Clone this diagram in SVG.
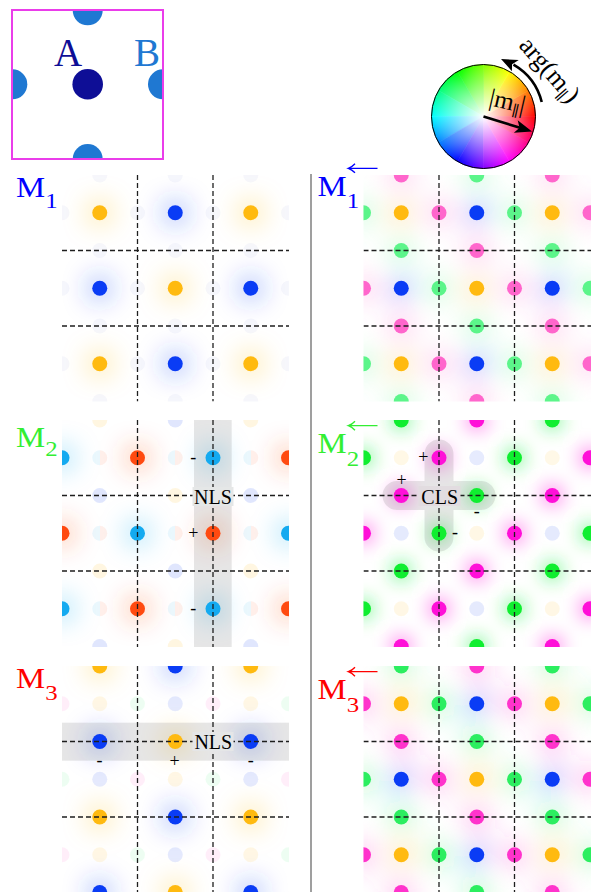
<svg xmlns="http://www.w3.org/2000/svg" xmlns:xlink="http://www.w3.org/1999/xlink" width="592" height="892" viewBox="0 0 592 892">
<style>
.t{font-family:"Liberation Serif","Times New Roman","DejaVu Serif",serif}
.dash{fill:none;stroke:#1e1e1e;stroke-width:1.3;stroke-dasharray:5 3}
.O{fill:#ffba10}.B{fill:#0a3cf5}.P{fill:#ff66cc}.G{fill:#5cf58a}.C{fill:#14aaf0}.R{fill:#ff4a10}.M{fill:#ff10d8}.L{fill:#10ee30}.P3{fill:#ff33cc}.G3{fill:#2cee60}
.sg{font-size:18px}
</style>
<defs>
<filter id="glow" filterUnits="userSpaceOnUse" x="0" y="0" width="592" height="892"><feGaussianBlur stdDeviation="14"/></filter>
<filter id="glow2" filterUnits="userSpaceOnUse" x="0" y="0" width="592" height="892"><feGaussianBlur stdDeviation="10"/></filter>
<clipPath id="cIn"><rect x="12" y="10" width="151" height="149"/></clipPath>
<clipPath id="cL1"><rect x="62" y="175" width="227" height="226.5"/></clipPath>
<clipPath id="cR1"><rect x="363.5" y="175" width="227.5" height="226.5"/></clipPath>
<clipPath id="cL2"><rect x="62" y="420" width="227" height="227"/></clipPath>
<clipPath id="cR2"><rect x="363.5" y="420" width="227.5" height="227"/></clipPath>
<clipPath id="cL3"><rect x="62" y="666" width="227" height="226"/></clipPath>
<clipPath id="cR3"><rect x="363.5" y="666" width="227.5" height="226"/></clipPath>
<linearGradient id="split" x1="0" y1="0" x2="1" y2="0"><stop offset="0.5" stop-color="#14aaf0"/><stop offset="0.5" stop-color="#ff4a10"/></linearGradient>
<radialGradient id="wht" cx="483.5" cy="116.5" r="52" gradientUnits="userSpaceOnUse"><stop offset="0" stop-color="#fff" stop-opacity="1"/><stop offset="1" stop-color="#fff" stop-opacity="0"/></radialGradient>
<linearGradient id="w0" gradientUnits="userSpaceOnUse" x1="535.5" y1="116.5" x2="528.53" y2="90.5"><stop offset="0" stop-color="#ff0000"/><stop offset="1" stop-color="#ff8000"/></linearGradient>
<linearGradient id="w1" gradientUnits="userSpaceOnUse" x1="528.53" y1="90.5" x2="509.5" y2="71.47"><stop offset="0" stop-color="#ff8000"/><stop offset="1" stop-color="#ffff00"/></linearGradient>
<linearGradient id="w2" gradientUnits="userSpaceOnUse" x1="509.5" y1="71.47" x2="483.5" y2="64.5"><stop offset="0" stop-color="#ffff00"/><stop offset="1" stop-color="#80ff00"/></linearGradient>
<linearGradient id="w3" gradientUnits="userSpaceOnUse" x1="483.5" y1="64.5" x2="457.5" y2="71.47"><stop offset="0" stop-color="#80ff00"/><stop offset="1" stop-color="#00ff00"/></linearGradient>
<linearGradient id="w4" gradientUnits="userSpaceOnUse" x1="457.5" y1="71.47" x2="438.47" y2="90.5"><stop offset="0" stop-color="#00ff00"/><stop offset="1" stop-color="#00ff80"/></linearGradient>
<linearGradient id="w5" gradientUnits="userSpaceOnUse" x1="438.47" y1="90.5" x2="431.5" y2="116.5"><stop offset="0" stop-color="#00ff80"/><stop offset="1" stop-color="#00ffff"/></linearGradient>
<linearGradient id="w6" gradientUnits="userSpaceOnUse" x1="431.5" y1="116.5" x2="438.47" y2="142.5"><stop offset="0" stop-color="#00ffff"/><stop offset="1" stop-color="#0080ff"/></linearGradient>
<linearGradient id="w7" gradientUnits="userSpaceOnUse" x1="438.47" y1="142.5" x2="457.5" y2="161.53"><stop offset="0" stop-color="#0080ff"/><stop offset="1" stop-color="#0000ff"/></linearGradient>
<linearGradient id="w8" gradientUnits="userSpaceOnUse" x1="457.5" y1="161.53" x2="483.5" y2="168.5"><stop offset="0" stop-color="#0000ff"/><stop offset="1" stop-color="#8000ff"/></linearGradient>
<linearGradient id="w9" gradientUnits="userSpaceOnUse" x1="483.5" y1="168.5" x2="509.5" y2="161.53"><stop offset="0" stop-color="#8000ff"/><stop offset="1" stop-color="#ff00ff"/></linearGradient>
<linearGradient id="w10" gradientUnits="userSpaceOnUse" x1="509.5" y1="161.53" x2="528.53" y2="142.5"><stop offset="0" stop-color="#ff00ff"/><stop offset="1" stop-color="#ff0080"/></linearGradient>
<linearGradient id="w11" gradientUnits="userSpaceOnUse" x1="528.53" y1="142.5" x2="535.5" y2="116.5"><stop offset="0" stop-color="#ff0080"/><stop offset="1" stop-color="#ff0000"/></linearGradient>

<g id="d1l">
<circle class="O" cx="99.75" cy="212.75" r="7.5"/><circle class="B" cx="175.25" cy="212.75" r="7.5"/><circle class="O" cx="250.75" cy="212.75" r="7.5"/>
<circle class="B" cx="99.75" cy="288.25" r="7.5"/><circle class="O" cx="175.25" cy="288.25" r="7.5"/><circle class="B" cx="250.75" cy="288.25" r="7.5"/>
<circle class="O" cx="99.75" cy="363.75" r="7.5"/><circle class="B" cx="175.25" cy="363.75" r="7.5"/><circle class="O" cx="250.75" cy="363.75" r="7.5"/>
</g>
<g id="d1r">
<circle class="P" cx="401.25" cy="175" r="7.5"/><circle class="G" cx="476.75" cy="175" r="7.5"/><circle class="P" cx="552.25" cy="175" r="7.5"/>
<circle class="G" cx="363.5" cy="212.75" r="7.5"/><circle class="O" cx="401.25" cy="212.75" r="7.5"/><circle class="P" cx="439" cy="212.75" r="7.5"/><circle class="B" cx="476.75" cy="212.75" r="7.5"/><circle class="G" cx="514.5" cy="212.75" r="7.5"/><circle class="O" cx="552.25" cy="212.75" r="7.5"/><circle class="P" cx="590" cy="212.75" r="7.5"/>
<circle class="G" cx="401.25" cy="250.5" r="7.5"/><circle class="P" cx="476.75" cy="250.5" r="7.5"/><circle class="G" cx="552.25" cy="250.5" r="7.5"/>
<circle class="P" cx="363.5" cy="288.25" r="7.5"/><circle class="B" cx="401.25" cy="288.25" r="7.5"/><circle class="G" cx="439" cy="288.25" r="7.5"/><circle class="O" cx="476.75" cy="288.25" r="7.5"/><circle class="P" cx="514.5" cy="288.25" r="7.5"/><circle class="B" cx="552.25" cy="288.25" r="7.5"/><circle class="G" cx="590" cy="288.25" r="7.5"/>
<circle class="P" cx="401.25" cy="326" r="7.5"/><circle class="G" cx="476.75" cy="326" r="7.5"/><circle class="P" cx="552.25" cy="326" r="7.5"/>
<circle class="G" cx="363.5" cy="363.75" r="7.5"/><circle class="O" cx="401.25" cy="363.75" r="7.5"/><circle class="P" cx="439" cy="363.75" r="7.5"/><circle class="B" cx="476.75" cy="363.75" r="7.5"/><circle class="G" cx="514.5" cy="363.75" r="7.5"/><circle class="O" cx="552.25" cy="363.75" r="7.5"/><circle class="P" cx="590" cy="363.75" r="7.5"/>
<circle class="G" cx="401.25" cy="401.5" r="7.5"/><circle class="P" cx="476.75" cy="401.5" r="7.5"/><circle class="G" cx="552.25" cy="401.5" r="7.5"/>
</g>
<g id="d2l">
<circle class="C" cx="62" cy="457.75" r="7.5"/><circle class="R" cx="137.5" cy="457.75" r="7.5"/><circle class="C" cx="213" cy="457.75" r="7.5"/><circle class="R" cx="288.5" cy="457.75" r="7.5"/>
<circle class="R" cx="62" cy="533.25" r="7.5"/><circle class="C" cx="137.5" cy="533.25" r="7.5"/><circle class="R" cx="213" cy="533.25" r="7.5"/><circle class="C" cx="288.5" cy="533.25" r="7.5"/>
<circle class="C" cx="62" cy="608.75" r="7.5"/><circle class="R" cx="137.5" cy="608.75" r="7.5"/><circle class="C" cx="213" cy="608.75" r="7.5"/><circle class="R" cx="288.5" cy="608.75" r="7.5"/>
</g>
<g id="d2r">
<circle class="L" cx="401.25" cy="420" r="7.5"/><circle class="M" cx="476.75" cy="420" r="7.5"/><circle class="L" cx="552.25" cy="420" r="7.5"/>
<circle class="L" cx="363.5" cy="457.75" r="7.5"/><circle class="M" cx="439" cy="457.75" r="7.5"/><circle class="L" cx="514.5" cy="457.75" r="7.5"/><circle class="M" cx="590" cy="457.75" r="7.5"/>
<circle class="M" cx="401.25" cy="495.5" r="7.5"/><circle class="L" cx="476.75" cy="495.5" r="7.5"/><circle class="M" cx="552.25" cy="495.5" r="7.5"/>
<circle class="M" cx="363.5" cy="533.25" r="7.5"/><circle class="L" cx="439" cy="533.25" r="7.5"/><circle class="M" cx="514.5" cy="533.25" r="7.5"/><circle class="L" cx="590" cy="533.25" r="7.5"/>
<circle class="L" cx="401.25" cy="571" r="7.5"/><circle class="M" cx="476.75" cy="571" r="7.5"/><circle class="L" cx="552.25" cy="571" r="7.5"/>
<circle class="L" cx="363.5" cy="608.75" r="7.5"/><circle class="M" cx="439" cy="608.75" r="7.5"/><circle class="L" cx="514.5" cy="608.75" r="7.5"/><circle class="M" cx="590" cy="608.75" r="7.5"/>
<circle class="M" cx="401.25" cy="646.5" r="7.5"/><circle class="L" cx="476.75" cy="646.5" r="7.5"/><circle class="M" cx="552.25" cy="646.5" r="7.5"/>
</g>
<g id="d3l">
<circle class="O" cx="99.75" cy="666" r="7.5"/><circle class="B" cx="175.25" cy="666" r="7.5"/><circle class="O" cx="250.75" cy="666" r="7.5"/>
<circle class="B" cx="99.75" cy="741.5" r="7.5"/><circle class="O" cx="175.25" cy="741.5" r="7.5"/><circle class="B" cx="250.75" cy="741.5" r="7.5"/>
<circle class="O" cx="99.75" cy="817" r="7.5"/><circle class="B" cx="175.25" cy="817" r="7.5"/><circle class="O" cx="250.75" cy="817" r="7.5"/>
<circle class="B" cx="99.75" cy="892.5" r="7.5"/><circle class="O" cx="175.25" cy="892.5" r="7.5"/><circle class="B" cx="250.75" cy="892.5" r="7.5"/>
</g>
<g id="d3r">
<circle class="G3" cx="401.25" cy="666" r="7.5"/><circle class="P3" cx="476.75" cy="666" r="7.5"/><circle class="G3" cx="552.25" cy="666" r="7.5"/>
<circle class="P3" cx="363.5" cy="703.75" r="7.5"/><circle class="O" cx="401.25" cy="703.75" r="7.5"/><circle class="G3" cx="439" cy="703.75" r="7.5"/><circle class="B" cx="476.75" cy="703.75" r="7.5"/><circle class="P3" cx="514.5" cy="703.75" r="7.5"/><circle class="O" cx="552.25" cy="703.75" r="7.5"/><circle class="G3" cx="590" cy="703.75" r="7.5"/>
<circle class="P3" cx="401.25" cy="741.5" r="7.5"/><circle class="G3" cx="476.75" cy="741.5" r="7.5"/><circle class="P3" cx="552.25" cy="741.5" r="7.5"/>
<circle class="G3" cx="363.5" cy="779.25" r="7.5"/><circle class="B" cx="401.25" cy="779.25" r="7.5"/><circle class="P3" cx="439" cy="779.25" r="7.5"/><circle class="O" cx="476.75" cy="779.25" r="7.5"/><circle class="G3" cx="514.5" cy="779.25" r="7.5"/><circle class="B" cx="552.25" cy="779.25" r="7.5"/><circle class="P3" cx="590" cy="779.25" r="7.5"/>
<circle class="G3" cx="401.25" cy="817" r="7.5"/><circle class="P3" cx="476.75" cy="817" r="7.5"/><circle class="G3" cx="552.25" cy="817" r="7.5"/>
<circle class="P3" cx="363.5" cy="854.75" r="7.5"/><circle class="O" cx="401.25" cy="854.75" r="7.5"/><circle class="G3" cx="439" cy="854.75" r="7.5"/><circle class="B" cx="476.75" cy="854.75" r="7.5"/><circle class="P3" cx="514.5" cy="854.75" r="7.5"/><circle class="O" cx="552.25" cy="854.75" r="7.5"/><circle class="G3" cx="590" cy="854.75" r="7.5"/>
<circle class="P3" cx="401.25" cy="892.5" r="7.5"/><circle class="G3" cx="476.75" cy="892.5" r="7.5"/><circle class="P3" cx="552.25" cy="892.5" r="7.5"/>
</g>
</defs>

<rect width="592" height="892" fill="#fff"/>

<g id="inset">
<g clip-path="url(#cIn)">
<circle cx="87.7" cy="10.3" r="15" fill="#1f78d2"/>
<circle cx="87.7" cy="159" r="15" fill="#1f78d2"/>
<circle cx="12.3" cy="84.3" r="15" fill="#1f78d2"/>
<circle cx="163" cy="84.3" r="15" fill="#1f78d2"/>
</g>
<circle cx="87.7" cy="84.3" r="15.3" fill="#0e0e96"/>
<rect x="12" y="10" width="151" height="149" fill="none" stroke="#ea3dea" stroke-width="2"/>
<text class="t" x="68" y="65.7" font-size="39" fill="#0e0e96" text-anchor="middle">A</text>
<text class="t" x="147" y="66" font-size="39" fill="#1f78d2" text-anchor="middle">B</text>
</g>

<g id="wheel">
<path d="M483.5,116.5 L535.5,116.5 A52,52 0 0 0 528.53,90.5 Z" fill="url(#w0)" stroke="url(#w0)" stroke-width="0.6"/>
<path d="M483.5,116.5 L528.53,90.5 A52,52 0 0 0 509.5,71.47 Z" fill="url(#w1)" stroke="url(#w1)" stroke-width="0.6"/>
<path d="M483.5,116.5 L509.5,71.47 A52,52 0 0 0 483.5,64.5 Z" fill="url(#w2)" stroke="url(#w2)" stroke-width="0.6"/>
<path d="M483.5,116.5 L483.5,64.5 A52,52 0 0 0 457.5,71.47 Z" fill="url(#w3)" stroke="url(#w3)" stroke-width="0.6"/>
<path d="M483.5,116.5 L457.5,71.47 A52,52 0 0 0 438.47,90.5 Z" fill="url(#w4)" stroke="url(#w4)" stroke-width="0.6"/>
<path d="M483.5,116.5 L438.47,90.5 A52,52 0 0 0 431.5,116.5 Z" fill="url(#w5)" stroke="url(#w5)" stroke-width="0.6"/>
<path d="M483.5,116.5 L431.5,116.5 A52,52 0 0 0 438.47,142.5 Z" fill="url(#w6)" stroke="url(#w6)" stroke-width="0.6"/>
<path d="M483.5,116.5 L438.47,142.5 A52,52 0 0 0 457.5,161.53 Z" fill="url(#w7)" stroke="url(#w7)" stroke-width="0.6"/>
<path d="M483.5,116.5 L457.5,161.53 A52,52 0 0 0 483.5,168.5 Z" fill="url(#w8)" stroke="url(#w8)" stroke-width="0.6"/>
<path d="M483.5,116.5 L483.5,168.5 A52,52 0 0 0 509.5,161.53 Z" fill="url(#w9)" stroke="url(#w9)" stroke-width="0.6"/>
<path d="M483.5,116.5 L509.5,161.53 A52,52 0 0 0 528.53,142.5 Z" fill="url(#w10)" stroke="url(#w10)" stroke-width="0.6"/>
<path d="M483.5,116.5 L528.53,142.5 A52,52 0 0 0 535.5,116.5 Z" fill="url(#w11)" stroke="url(#w11)" stroke-width="0.6"/>
<circle cx="483.5" cy="116.5" r="52" fill="url(#wht)"/>
<circle cx="483.5" cy="116.5" r="52" fill="none" stroke="#000" stroke-width="1"/>
<line x1="483.5" y1="116.5" x2="520" y2="127.8" stroke="#000" stroke-width="2.6"/>
<path d="M532,131.5 L517.69,120.26 L519.59,127.65 L513.85,132.68 Z" fill="#000"/>
<text class="t" transform="translate(488,105) rotate(13)" font-size="25">|m<tspan font-size="15" dy="5">∥</tspan><tspan dy="-5">|</tspan></text>
<path d="M541.72,101.98 A60,60 0 0 0 513.5,64.54" fill="none" stroke="#000" stroke-width="2.6"/>
<path d="M501.04,59.12 L518.75,60.11 L512.1,64.17 L511.86,71.13 Z" fill="#000"/>
<text class="t" transform="translate(518,46) rotate(49)" font-size="26">arg(m<tspan font-size="16" dy="5">∥</tspan><tspan dy="-5">)</tspan></text>
</g>

<line id="separator" x1="311" y1="174" x2="311" y2="892" stroke="#7f7f7f" stroke-width="1.5"/>

<g id="panel-M1">
<g clip-path="url(#cL1)">
<use xlink:href="#d1l" href="#d1l" filter="url(#glow)"/>
<g opacity="0.1" fill="#a8aede">
<circle cx="62" cy="212.75" r="7.5"/><circle cx="137.5" cy="212.75" r="7.5"/><circle cx="213" cy="212.75" r="7.5"/><circle cx="288.5" cy="212.75" r="7.5"/>
<circle cx="62" cy="288.25" r="7.5"/><circle cx="137.5" cy="288.25" r="7.5"/><circle cx="213" cy="288.25" r="7.5"/><circle cx="288.5" cy="288.25" r="7.5"/>
<circle cx="62" cy="363.75" r="7.5"/><circle cx="137.5" cy="363.75" r="7.5"/><circle cx="213" cy="363.75" r="7.5"/><circle cx="288.5" cy="363.75" r="7.5"/>
<circle cx="99.75" cy="175" r="7.5"/><circle cx="175.25" cy="175" r="7.5"/><circle cx="250.75" cy="175" r="7.5"/>
<circle cx="99.75" cy="250.5" r="7.5"/><circle cx="175.25" cy="250.5" r="7.5"/><circle cx="250.75" cy="250.5" r="7.5"/>
<circle cx="99.75" cy="326" r="7.5"/><circle cx="175.25" cy="326" r="7.5"/><circle cx="250.75" cy="326" r="7.5"/>
<circle cx="99.75" cy="401.5" r="7.5"/><circle cx="175.25" cy="401.5" r="7.5"/><circle cx="250.75" cy="401.5" r="7.5"/>
</g>
<use xlink:href="#d1l" href="#d1l"/>
<line class="dash" x1="137.5" y1="175" x2="137.5" y2="401.5"/><line class="dash" x1="213" y1="175" x2="213" y2="401.5"/>
<line class="dash" x1="62" y1="250.5" x2="289" y2="250.5"/><line class="dash" x1="62" y1="326" x2="289" y2="326"/>
</g>
<text class="t" transform="translate(16,196.7) scale(1.13,1)" font-size="29" fill="#0000ff">M<tspan font-size="22" dy="11.6">1</tspan></text>
</g>

<g id="panel-M1-rev">
<g clip-path="url(#cR1)">
<use xlink:href="#d1r" href="#d1r" filter="url(#glow)"/>
<use xlink:href="#d1r" href="#d1r"/>
<line class="dash" x1="439" y1="175" x2="439" y2="401.5"/><line class="dash" x1="514.5" y1="175" x2="514.5" y2="401.5"/>
<line class="dash" x1="363.5" y1="250.5" x2="591" y2="250.5"/><line class="dash" x1="363.5" y1="326" x2="591" y2="326"/>
</g>
<text class="t" transform="translate(317.5,196) scale(1.13,1)" font-size="29" fill="#0000ff">M<tspan font-size="22" dy="12.3">1</tspan></text>
<path d="M348.5,168.3 H377.5 M355,163.8 C352.5,166.5 350.5,167.6 348.3,168.3 C350.5,169 352.5,170.1 355,172.8" fill="none" stroke="#0000ff" stroke-width="1.3"/>
</g>

<g id="panel-M2">
<g clip-path="url(#cL2)">
<use xlink:href="#d2l" href="#d2l" filter="url(#glow)"/>
<g opacity="0.12">
<circle class="O" cx="99.75" cy="420" r="7.5"/><circle class="B" cx="175.25" cy="420" r="7.5"/><circle class="O" cx="250.75" cy="420" r="7.5"/>
<circle class="B" cx="99.75" cy="495.5" r="7.5"/><circle class="O" cx="175.25" cy="495.5" r="7.5"/><circle class="B" cx="250.75" cy="495.5" r="7.5"/>
<circle class="O" cx="99.75" cy="571" r="7.5"/><circle class="B" cx="175.25" cy="571" r="7.5"/><circle class="O" cx="250.75" cy="571" r="7.5"/>
<circle class="B" cx="99.75" cy="646.5" r="7.5"/><circle class="O" cx="175.25" cy="646.5" r="7.5"/><circle class="B" cx="250.75" cy="646.5" r="7.5"/>
</g>
<g opacity="0.08" fill="url(#split)">
<circle cx="99.75" cy="457.75" r="7.5"/><circle cx="175.25" cy="457.75" r="7.5"/><circle cx="250.75" cy="457.75" r="7.5"/>
<circle cx="99.75" cy="533.25" r="7.5"/><circle cx="175.25" cy="533.25" r="7.5"/><circle cx="250.75" cy="533.25" r="7.5"/>
<circle cx="99.75" cy="608.75" r="7.5"/><circle cx="175.25" cy="608.75" r="7.5"/><circle cx="250.75" cy="608.75" r="7.5"/>
</g>
<rect x="194" y="420" width="37.7" height="227" fill="#808080" opacity="0.2"/>
<use xlink:href="#d2l" href="#d2l"/>
<line class="dash" x1="137.5" y1="420" x2="137.5" y2="647"/><line class="dash" x1="213" y1="420" x2="213" y2="647"/>
<line class="dash" x1="62" y1="495.5" x2="289" y2="495.5"/><line class="dash" x1="62" y1="571" x2="289" y2="571"/>
<rect x="192.5" y="487" width="41" height="19" fill="#e5e7e7"/>
</g>
<text class="t" x="213" y="504" font-size="20" text-anchor="middle">NLS</text>
<text class="t sg" x="193.3" y="462.5" text-anchor="middle">-</text>
<text class="t sg" x="193.3" y="538.5" text-anchor="middle">+</text>
<text class="t sg" x="193.3" y="613.8" text-anchor="middle">-</text>
<text class="t" transform="translate(16,446.7) scale(1.13,1)" font-size="29" fill="#33ee33">M<tspan font-size="22" dy="9">2</tspan></text>
</g>

<g id="panel-M2-rev">
<g clip-path="url(#cR2)">
<use xlink:href="#d2r" href="#d2r" filter="url(#glow2)"/>
<g opacity="0.1">
<circle class="O" cx="401.25" cy="457.75" r="7.5"/><circle class="B" cx="476.75" cy="457.75" r="7.5"/><circle class="O" cx="552.25" cy="457.75" r="7.5"/>
<circle class="B" cx="401.25" cy="533.25" r="7.5"/><circle class="O" cx="476.75" cy="533.25" r="7.5"/><circle class="B" cx="552.25" cy="533.25" r="7.5"/>
<circle class="O" cx="401.25" cy="608.75" r="7.5"/><circle class="B" cx="476.75" cy="608.75" r="7.5"/><circle class="O" cx="552.25" cy="608.75" r="7.5"/>
</g>
<path d="M424.5,454 A14.5,14.5 0 0 1 453.5,454 L453.5,481 L481,481 A14.5,14.5 0 0 1 481,510 L453.5,510 L453.5,537 A14.5,14.5 0 0 1 424.5,537 L424.5,510 L397,510 A14.5,14.5 0 0 1 397,481 L424.5,481 Z" fill="#808080" opacity="0.2"/>
<use xlink:href="#d2r" href="#d2r"/>
<line class="dash" x1="439" y1="420" x2="439" y2="647"/><line class="dash" x1="514.5" y1="420" x2="514.5" y2="647"/>
<line class="dash" x1="363.5" y1="495.5" x2="591" y2="495.5"/><line class="dash" x1="363.5" y1="571" x2="591" y2="571"/>
<rect x="418.5" y="486" width="42" height="20" fill="#e2dce0"/>
</g>
<text class="t" x="439.7" y="504" font-size="20" text-anchor="middle">CLS</text>
<text class="t sg" x="423.3" y="463.3" text-anchor="middle">+</text>
<text class="t sg" x="401.7" y="486" text-anchor="middle">+</text>
<text class="t sg" x="476.7" y="516.5" text-anchor="middle">-</text>
<text class="t sg" x="455" y="538" text-anchor="middle">-</text>
<text class="t" transform="translate(317.5,453.3) scale(1.13,1)" font-size="29" fill="#33ee33">M<tspan font-size="22" dy="12.7">2</tspan></text>
<path d="M348.5,425.7 H377.5 M355,421.2 C352.5,423.9 350.5,425 348.3,425.7 C350.5,426.4 352.5,427.5 355,430.2" fill="none" stroke="#33ee33" stroke-width="1.3"/>
</g>

<g id="panel-M3">
<g clip-path="url(#cL3)">
<use xlink:href="#d3l" href="#d3l" filter="url(#glow)"/>
<g opacity="0.1">
<circle class="P" cx="62" cy="703.75" r="7.5"/><circle class="O" cx="99.75" cy="703.75" r="7.5"/><circle class="G" cx="137.5" cy="703.75" r="7.5"/><circle class="B" cx="175.25" cy="703.75" r="7.5"/><circle class="P" cx="213" cy="703.75" r="7.5"/><circle class="O" cx="250.75" cy="703.75" r="7.5"/><circle class="G" cx="288.5" cy="703.75" r="7.5"/>
<circle class="G" cx="62" cy="779.25" r="7.5"/><circle class="B" cx="99.75" cy="779.25" r="7.5"/><circle class="P" cx="137.5" cy="779.25" r="7.5"/><circle class="O" cx="175.25" cy="779.25" r="7.5"/><circle class="G" cx="213" cy="779.25" r="7.5"/><circle class="B" cx="250.75" cy="779.25" r="7.5"/><circle class="P" cx="288.5" cy="779.25" r="7.5"/>
<circle class="P" cx="62" cy="854.75" r="7.5"/><circle class="O" cx="99.75" cy="854.75" r="7.5"/><circle class="G" cx="137.5" cy="854.75" r="7.5"/><circle class="B" cx="175.25" cy="854.75" r="7.5"/><circle class="P" cx="213" cy="854.75" r="7.5"/><circle class="O" cx="250.75" cy="854.75" r="7.5"/><circle class="G" cx="288.5" cy="854.75" r="7.5"/>
</g>
<rect x="62" y="722.7" width="227" height="38" fill="#808080" opacity="0.2"/>
<use xlink:href="#d3l" href="#d3l"/>
<line class="dash" x1="137.5" y1="666" x2="137.5" y2="892"/><line class="dash" x1="213" y1="666" x2="213" y2="892"/>
<line class="dash" x1="62" y1="741.5" x2="289" y2="741.5"/><line class="dash" x1="62" y1="817" x2="289" y2="817"/>
<rect x="192.5" y="732" width="41" height="19" fill="#e5e6e7"/>
</g>
<text class="t" x="213.3" y="749" font-size="20" text-anchor="middle">NLS</text>
<text class="t sg" x="99.5" y="766" text-anchor="middle">-</text>
<text class="t sg" x="174.5" y="767" text-anchor="middle">+</text>
<text class="t sg" x="250.7" y="766" text-anchor="middle">-</text>
<text class="t" transform="translate(16,688.3) scale(1.13,1)" font-size="29" fill="#ff0000">M<tspan font-size="22" dy="11.7">3</tspan></text>
</g>

<g id="panel-M3-rev">
<g clip-path="url(#cR3)">
<use xlink:href="#d3r" href="#d3r" filter="url(#glow)"/>
<use xlink:href="#d3r" href="#d3r"/>
<line class="dash" x1="439" y1="666" x2="439" y2="892"/><line class="dash" x1="514.5" y1="666" x2="514.5" y2="892"/>
<line class="dash" x1="363.5" y1="741.5" x2="591" y2="741.5"/><line class="dash" x1="363.5" y1="817" x2="591" y2="817"/>
</g>
<text class="t" transform="translate(317.5,699) scale(1.13,1)" font-size="29" fill="#ff0000">M<tspan font-size="22" dy="12.5">3</tspan></text>
<path d="M348.5,671.7 H377.5 M355,667.2 C352.5,669.9 350.5,671 348.3,671.7 C350.5,672.4 352.5,673.5 355,676.2" fill="none" stroke="#ff0000" stroke-width="1.3"/>
</g>
</svg>
